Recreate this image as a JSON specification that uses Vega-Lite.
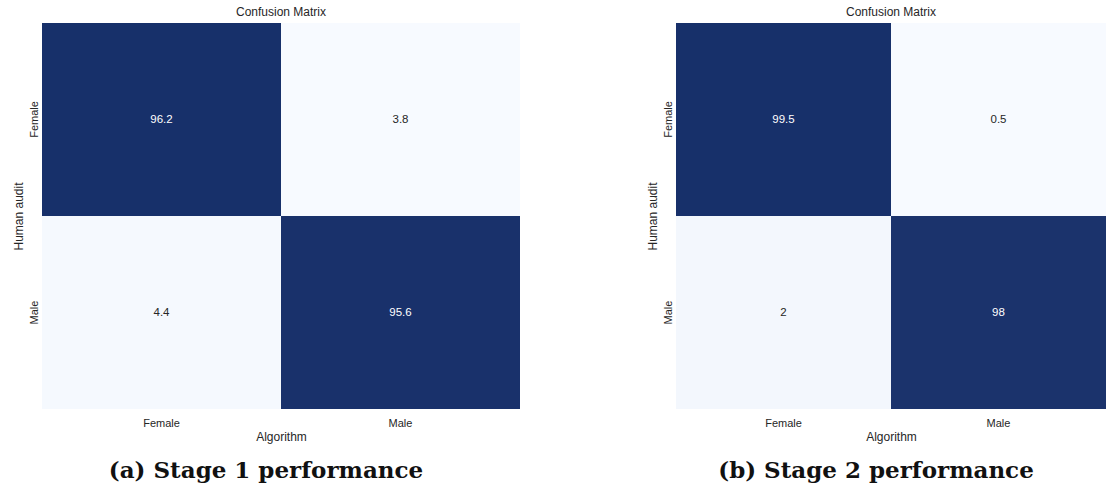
{
  "$schema": "https://vega.github.io/schema/vega-lite/v6.json",
  "padding": {"left": 12, "top": 6, "right": 0, "bottom": 0},
  "autosize": {"type": "pad"},
  "background": "white",
  "datasets": {
    "stage1": [
      {"human": "Female", "algorithm": "Female", "pct": 96.2},
      {"human": "Female", "algorithm": "Male", "pct": 3.8},
      {"human": "Male", "algorithm": "Female", "pct": 4.4},
      {"human": "Male", "algorithm": "Male", "pct": 95.6}
    ],
    "stage2": [
      {"human": "Female", "algorithm": "Female", "pct": 99.5},
      {"human": "Female", "algorithm": "Male", "pct": 0.5},
      {"human": "Male", "algorithm": "Female", "pct": 2},
      {"human": "Male", "algorithm": "Male", "pct": 98}
    ]
  },
  "config": {
    "font": "Liberation Sans",
    "view": {"stroke": null},
    "axis": {
      "domain": false,
      "ticks": false,
      "grid": false,
      "labelFont": "Liberation Sans",
      "labelFontSize": 11,
      "labelColor": "#262626",
      "titleFont": "Liberation Sans",
      "titleFontSize": 12,
      "titleFontWeight": "normal",
      "titleColor": "#262626"
    },
    "axisX": {"labelAngle": 0, "labelPadding": 8, "titlePadding": 3},
    "axisY": {"labelAngle": -90, "labelPadding": 8, "titlePadding": 3, "labelBaseline": "middle"},
    "title": {
      "font": "Liberation Sans",
      "fontSize": 12,
      "fontWeight": "normal",
      "color": "#262626",
      "offset": 4
    },
    "legend": {"disable": true}
  },
  "spacing": 126,
  "resolve": {"scale": {"color": "independent"}},
  "hconcat": [
    {
      "title": {
        "text": "(a) Stage 1 performance",
        "orient": "bottom",
        "anchor": "middle",
        "font": "DejaVu Serif",
        "fontSize": 23,
        "fontWeight": "bold",
        "color": "#111111",
        "offset": 18
      },
      "vconcat": [
        {
          "title": "Confusion Matrix",
          "width": 478,
          "height": 386,
          "data": {"name": "stage1"},
          "encoding": {
            "x": {"field": "algorithm", "type": "nominal", "sort": ["Female", "Male"], "title": "Algorithm"},
            "y": {"field": "human", "type": "nominal", "sort": ["Female", "Male"], "title": "Human audit"}
          },
          "layer": [
            {
              "mark": {"type": "rect"},
              "encoding": {
                "color": {
                  "field": "pct",
                  "type": "quantitative",
                  "scale": {"range": ["#f7faff", "#17306a"], "zero": false, "nice": false},
                  "legend": null
                }
              }
            },
            {
              "mark": {"type": "text", "fontSize": 11.5, "font": "Liberation Sans"},
              "encoding": {
                "text": {"field": "pct", "type": "quantitative"},
                "color": {
                  "condition": {"test": "datum.pct > 50", "value": "#ffffff"},
                  "value": "#262626"
                }
              }
            }
          ]
        }
      ]
    },
    {
      "title": {
        "text": "(b) Stage 2 performance",
        "orient": "bottom",
        "anchor": "middle",
        "font": "DejaVu Serif",
        "fontSize": 23,
        "fontWeight": "bold",
        "color": "#111111",
        "offset": 18
      },
      "vconcat": [
        {
          "title": "Confusion Matrix",
          "width": 430,
          "height": 386,
          "data": {"name": "stage2"},
          "encoding": {
            "x": {"field": "algorithm", "type": "nominal", "sort": ["Female", "Male"], "title": "Algorithm"},
            "y": {"field": "human", "type": "nominal", "sort": ["Female", "Male"], "title": "Human audit"}
          },
          "layer": [
            {
              "mark": {"type": "rect"},
              "encoding": {
                "color": {
                  "field": "pct",
                  "type": "quantitative",
                  "scale": {"range": ["#f7faff", "#17306a"], "zero": false, "nice": false},
                  "legend": null
                }
              }
            },
            {
              "mark": {"type": "text", "fontSize": 11.5, "font": "Liberation Sans"},
              "encoding": {
                "text": {"field": "pct", "type": "quantitative"},
                "color": {
                  "condition": {"test": "datum.pct > 50", "value": "#ffffff"},
                  "value": "#262626"
                }
              }
            }
          ]
        }
      ]
    }
  ]
}
